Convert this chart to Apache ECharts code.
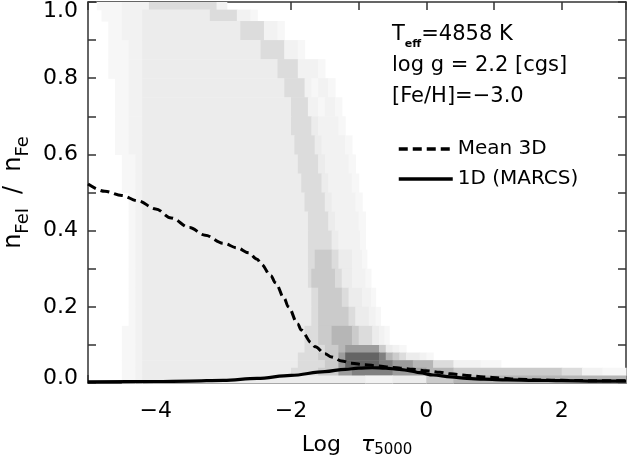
<!DOCTYPE html>
<html>
<head>
<meta charset="utf-8">
<script src="https://cdn.jsdelivr.net/npm/echarts@6/dist/echarts.min.js"></script>
<style>html,body{margin:0;padding:0;background:#fff}#chart{width:630px;height:457px}</style>
</head>
<body>
<div id="chart"></div>
<script>
// ---- data ----
const mean3dX = [-5.0, -4.75, -4.5, -4.26, -4.0, -3.77, -3.5, -3.27, -3.0, -2.8, -2.63, -2.5, -2.44, -2.3, -2.23, -2.1, -2.04, -1.9, -1.85, -1.7, -1.64, -1.5, -1.4, -1.25, -1.11, -0.9, -0.73, -0.5, -0.38, -0.2, 0.0, 0.2, 0.36, 0.6, 0.85, 1.1, 1.35, 1.7, 2.0, 2.5, 2.95];
const mean3dY = [0.522, 0.503, 0.492, 0.478, 0.457, 0.433, 0.408, 0.388, 0.367, 0.355, 0.342, 0.325, 0.312, 0.282, 0.263, 0.222, 0.200, 0.155, 0.139, 0.106, 0.095, 0.077, 0.068, 0.058, 0.052, 0.048, 0.045, 0.041, 0.039, 0.036, 0.032, 0.028, 0.024, 0.020, 0.016, 0.013, 0.010, 0.008, 0.007, 0.006, 0.006];
const marcsX = [-5.0, -4.0, -3.5, -3.0, -2.5, -2.0, -1.5, -1.2, -1.0, -0.8, -0.6, -0.4, -0.24, -0.1, 0.1, 0.36, 0.6, 0.85, 1.2, 1.6, 2.0, 2.5, 2.95];
const marcsY = [0.003, 0.004, 0.005, 0.007, 0.012, 0.020, 0.030, 0.036, 0.039, 0.040, 0.039, 0.036, 0.032, 0.027, 0.021, 0.016, 0.012, 0.010, 0.008, 0.007, 0.006, 0.005, 0.005];
const seriesNames = ['Mean 3D', '1D (MARCS)'];
const xLabelValues = [-4, -2, 0, 2];
const yLabelValues = [0.0, 0.2, 0.4, 0.6, 0.8, 1.0];
// density of 3D points: row edges (top to bottom) and per-row segments [x0, x1, level 1..9]
const densityYEdges = [1.00, 0.98, 0.95, 0.90, 0.85, 0.80, 0.75, 0.70, 0.65, 0.60, 0.55, 0.50, 0.45, 0.40, 0.35, 0.30, 0.25, 0.20, 0.15, 0.10, 0.08, 0.06, 0.04, 0.02, 0.00];
const densityRows = [
  [[-4.87,-4.5,1],[-4.5,-4.1,2],[-4.1,-3.1,4],[-3.1,-2.95,2]],
  [[-4.8,-4.5,1],[-4.5,-4.2,2],[-4.2,-3.2,3],[-3.2,-2.8,4],[-2.8,-2.6,2],[-2.6,-2.5,1]],
  [[-4.7,-4.5,1],[-4.5,-4.2,2],[-4.2,-2.75,3],[-2.75,-2.4,4],[-2.4,-2.2,2],[-2.2,-2.1,1]],
  [[-4.7,-4.4,1],[-4.4,-4.2,2],[-4.2,-2.45,3],[-2.45,-2.1,4],[-2.1,-1.9,2],[-1.9,-1.8,1]],
  [[-4.7,-4.4,1],[-4.4,-4.2,2],[-4.2,-2.2,3],[-2.2,-1.9,4],[-1.9,-1.6,2],[-1.6,-1.5,1]],
  [[-4.6,-4.4,1],[-4.4,-4.2,2],[-4.2,-2.1,3],[-2.1,-1.8,4],[-1.8,-1.7,2],[-1.7,-1.6,1],[-1.6,-1.45,2],[-1.45,-1.35,1]],
  [[-4.6,-4.4,1],[-4.4,-4.2,2],[-4.2,-2.0,3],[-2.0,-1.75,4],[-1.75,-1.6,2],[-1.6,-1.5,1],[-1.5,-1.35,2],[-1.35,-1.25,1]],
  [[-4.6,-4.4,1],[-4.4,-4.2,2],[-4.2,-2.0,3],[-2.0,-1.7,4],[-1.7,-1.6,3],[-1.6,-1.3,2],[-1.3,-1.2,1]],
  [[-4.6,-4.4,1],[-4.4,-4.2,2],[-4.2,-1.95,3],[-1.95,-1.65,4],[-1.65,-1.55,3],[-1.55,-1.2,2],[-1.2,-1.1,1]],
  [[-4.5,-4.3,1],[-4.3,-4.2,2],[-4.2,-1.9,3],[-1.9,-1.6,4],[-1.6,-1.5,3],[-1.5,-1.15,2],[-1.15,-1.05,1]],
  [[-4.5,-4.3,1],[-4.3,-4.2,2],[-4.2,-1.85,3],[-1.85,-1.55,4],[-1.55,-1.45,3],[-1.45,-1.1,2],[-1.1,-1.0,1]],
  [[-4.4,-4.3,1],[-4.3,-4.2,2],[-4.2,-1.8,3],[-1.8,-1.5,4],[-1.5,-1.4,3],[-1.4,-1.05,2],[-1.05,-0.95,1]],
  [[-4.4,-4.3,1],[-4.3,-4.2,2],[-4.2,-1.75,3],[-1.75,-1.45,4],[-1.45,-1.35,3],[-1.35,-1.0,2],[-1.0,-0.9,1]],
  [[-4.4,-4.3,1],[-4.3,-4.2,2],[-4.2,-1.75,3],[-1.75,-1.4,4],[-1.4,-1.3,3],[-1.3,-0.98,2],[-0.98,-0.9,1]],
  [[-4.4,-4.3,1],[-4.3,-4.2,2],[-4.2,-1.75,3],[-1.75,-1.65,4],[-1.65,-1.4,5],[-1.4,-1.3,4],[-1.3,-1.1,3],[-1.1,-0.95,2],[-0.95,-0.88,1]],
  [[-4.4,-4.3,1],[-4.3,-4.2,2],[-4.2,-1.75,3],[-1.75,-1.7,4],[-1.7,-1.35,5],[-1.35,-1.25,4],[-1.25,-1.1,3],[-1.1,-0.9,2],[-0.9,-0.82,1]],
  [[-4.4,-4.3,1],[-4.3,-4.2,2],[-4.2,-1.7,3],[-1.7,-1.6,4],[-1.6,-1.25,5],[-1.25,-1.15,4],[-1.15,-0.95,3],[-0.95,-0.82,2],[-0.82,-0.75,1]],
  [[-4.4,-4.3,1],[-4.3,-4.2,2],[-4.2,-1.7,3],[-1.7,-1.6,4],[-1.6,-1.15,5],[-1.15,-1.05,4],[-1.05,-0.85,3],[-0.85,-0.75,2],[-0.75,-0.68,1]],
  [[-4.5,-4.3,1],[-4.3,-4.2,2],[-4.2,-1.8,3],[-1.8,-1.6,4],[-1.6,-1.4,5],[-1.4,-1.1,6],[-1.1,-1.0,5],[-1.0,-0.8,4],[-0.8,-0.7,3],[-0.7,-0.62,2],[-0.62,-0.55,1]],
  [[-4.5,-4.3,1],[-4.3,-4.2,2],[-4.2,-1.8,3],[-1.8,-1.5,4],[-1.5,-1.3,5],[-1.3,-1.2,6],[-1.2,-0.7,7],[-0.7,-0.6,5],[-0.6,-0.5,3],[-0.5,-0.4,2],[-0.4,-0.3,1]],
  [[-4.5,-4.3,1],[-4.3,-4.2,2],[-4.2,-1.9,3],[-1.9,-1.6,4],[-1.6,-1.3,5],[-1.3,-1.2,7],[-1.2,-0.7,9],[-0.7,-0.6,8],[-0.6,-0.5,6],[-0.5,-0.4,5],[-0.4,-0.3,4],[-0.3,-0.1,3],[-0.1,0.0,2],[0.0,0.1,1]],
  [[-4.5,-4.3,1],[-4.3,-4.2,2],[-4.2,-1.9,3],[-1.9,-1.5,4],[-1.5,-1.3,5],[-1.3,-1.2,7],[-1.2,-0.7,9],[-0.7,-0.5,8],[-0.5,-0.2,7],[-0.2,0.1,6],[0.1,0.4,4],[0.4,0.8,2],[0.8,1.1,1]],
  [[-4.5,-4.3,1],[-4.3,-4.2,2],[-4.2,-2.0,3],[-2.0,-1.6,4],[-1.6,-1.3,5],[-1.3,-1.1,7],[-1.1,-0.5,8],[-0.5,0.0,7],[0.0,0.4,6],[0.4,2.0,5],[2.0,2.3,4],[2.3,2.6,2],[2.6,2.95,1]],
  [[-4.5,-4.3,1],[-4.3,-4.2,2],[-4.2,-0.9,3],[-0.9,-0.5,2],[-0.5,0.0,3],[0.0,0.4,5],[0.4,2.95,6]]
];

// ---- build ----
const grayLevels = ['#ffffff','#f7f7f7','#f2f2f2','#ececec','#dcdcdc','#cbcbcb','#b6b6b6','#9c9c9c','#808080','#646464'];
const cells = [];
densityRows.forEach((row, r) => {
  const yTop = densityYEdges[r], yBot = densityYEdges[r + 1];
  row.forEach(s => cells.push([s[0], s[1], yBot, yTop, s[2]]));
});
const zip = (xs, ys) => xs.map((x, i) => [x, ys[i]]);

const FONT = 'DejaVu Sans';
const AX = '#333333';
const baseAxis = {
  type: 'value',
  axisLine: { show: true, onZero: false, lineStyle: { color: AX, width: 1.5 } },
  axisTick: { show: true, inside: true, length: 8, lineStyle: { color: AX, width: 1.5 } },
  splitLine: { show: false },
  minorTick: { show: false }
};
const near = (v, list) => list.some(t => Math.abs(t - v) < 1e-6);
const lbl = { fontSize: 22, fontFamily: FONT, color: '#000' };

const chart = echarts.init(document.getElementById('chart'), null, { renderer: 'canvas' });
chart.setOption({
  animation: false,
  backgroundColor: '#ffffff',
  grid: { left: 88, top: 2, right: 4, bottom: 74, containLabel: false, outerBoundsMode: 'none' },
  legend: {
    data: seriesNames,
    orient: 'vertical',
    left: 392, top: 134,
    itemWidth: 54, itemHeight: 14, itemGap: 10,
    selectedMode: false,
    itemStyle: { opacity: 0 },
    lineStyle: { width: 3.5 },
    textStyle: { fontSize: 20, fontFamily: FONT, color: '#000', lineHeight: 20 }
  },
  xAxis: [
    Object.assign({}, baseAxis, {
      min: -5, max: 2.95, interval: 1, position: 'bottom',
      axisLabel: Object.assign({}, lbl, {
        margin: 17,
        formatter: v => near(v, xLabelValues) ? String(Math.round(v)).replace('-', '\u2212') : ''
      }),
      name: '{a|Log}{t|\u03c4}{s|5000}',
      nameLocation: 'middle', nameGap: 49,
      nameTextStyle: {
        rich: {
          a: { fontSize: 22, fontFamily: FONT, color: '#000', lineHeight: 26, padding: [0, 20, 0, 0] },
          t: { fontSize: 22, fontFamily: FONT, fontStyle: 'italic', color: '#000', lineHeight: 26 },
          s: { fontSize: 15, fontFamily: FONT, color: '#000', lineHeight: 16, verticalAlign: 'bottom' }
        }
      }
    }),
    Object.assign({}, baseAxis, {
      min: -5, max: 2.95, interval: 1, position: 'top',
      axisLabel: { show: false }
    })
  ],
  yAxis: [
    Object.assign({}, baseAxis, {
      min: 0, max: 1, interval: 0.1, position: 'left',
      axisLabel: Object.assign({}, lbl, {
        margin: 10,
        formatter: v => {
          if (!near(v, yLabelValues)) return '';
          if (v < 0.05) return '{lo|' + v.toFixed(1) + '}';
          if (v > 0.95) return '{hi|' + v.toFixed(1) + '}';
          return v.toFixed(1);
        },
        rich: {
          lo: Object.assign({}, lbl, { padding: [0, 0, 10, 0] }),
          hi: Object.assign({}, lbl, { padding: [18, 0, 0, 0] })
        }
      }),
      name: '{n|n}{s|FeI}{m|/}{n|n}{s|Fe}',
      nameLocation: 'middle', nameGap: 54, nameRotate: 90,
      nameTextStyle: {
        rich: {
          n: { fontSize: 24, fontFamily: FONT, color: '#000', lineHeight: 36 },
          m: { fontSize: 24, fontFamily: FONT, color: '#000', lineHeight: 36, padding: [0, 14, 0, 14] },
          s: { fontSize: 18, fontFamily: FONT, color: '#000', lineHeight: 16, verticalAlign: 'bottom' }
        }
      }
    }),
    Object.assign({}, baseAxis, {
      min: 0, max: 1, interval: 0.1, position: 'right',
      axisLabel: { show: false }
    })
  ],
  graphic: [{
    type: 'text', left: 392, top: 24, silent: true,
    style: {
      text: '{t|T}{s|eff}{t|=4858 K}\n{t|log g = 2.2 [cgs]}\n{t|[Fe/H]=\u22123.0}',
      rich: {
        t: { fontSize: 21, fontFamily: FONT, fill: '#000', lineHeight: 31 },
        s: { fontSize: 11, fontFamily: FONT, fontWeight: 'bold', fill: '#000', lineHeight: 18, verticalAlign: 'bottom' }
      }
    }
  }],
  series: [
    {
      type: 'custom', name: 'density', silent: true, z: 1,
      xAxisIndex: 0, yAxisIndex: 0,
      encode: { x: [0, 1], y: [2, 3] },
      data: cells,
      renderItem: (params, api) => {
        const p0 = api.coord([api.value(0), api.value(3)]);
        const p1 = api.coord([api.value(1), api.value(2)]);
        return {
          type: 'rect',
          shape: { x: p0[0], y: p0[1], width: p1[0] - p0[0] + 0.6, height: p1[1] - p0[1] + 0.6 },
          style: { fill: grayLevels[api.value(4)] }
        };
      }
    },
    {
      type: 'line', name: seriesNames[0], data: zip(mean3dX, mean3dY), z: 3,
      symbol: 'none', smooth: 0.35, smoothMonotone: 'x',
      lineStyle: { color: '#000', width: 3, type: [9, 5] },
      itemStyle: { color: '#000' }
    },
    {
      type: 'line', name: seriesNames[1], data: zip(marcsX, marcsY), z: 3,
      symbol: 'none', smooth: 0.35, smoothMonotone: 'x',
      lineStyle: { color: '#000', width: 3.2 },
      itemStyle: { color: '#000' }
    }
  ]
});
</script>
</body>
</html>
